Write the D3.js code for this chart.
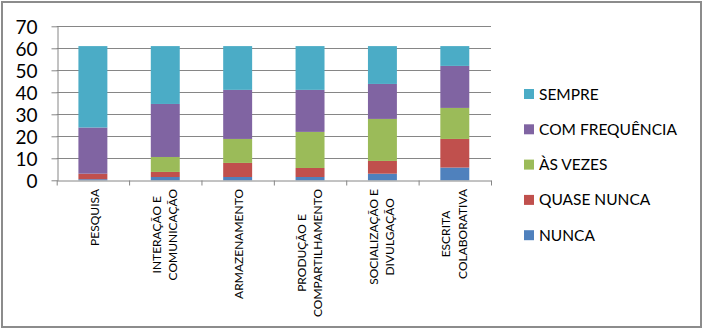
<!DOCTYPE html>
<html><head><meta charset="utf-8">
<script src="https://cdn.jsdelivr.net/npm/d3@7"></script>
<style>
body{margin:0;background:#fff;}
svg{display:block;font-family:Lato,"Open Sans",sans-serif;}
</style></head>
<body><svg id="c" width="704" height="331"></svg>
<script>
const categories = ["PESQUISA","INTERAÇÃO E COMUNICAÇÃO","ARMAZENAMENTO","PRODUÇÃO E COMPARTILHAMENTO","SOCIALIZAÇÃO E DIVULGAÇÃO","ESCRITA COLABORATIVA"];
const categoryLines = [["PESQUISA"],["INTERAÇÃO E","COMUNICAÇÃO"],["ARMAZENAMENTO"],["PRODUÇÃO E","COMPARTILHAMENTO"],["SOCIALIZAÇÃO E","DIVULGAÇÃO"],["ESCRITA","COLABORATIVA"]];
const seriesNames = ["NUNCA","QUASE NUNCA","ÀS VEZES","COM FREQUÊNCIA","SEMPRE"];
const nunca        = [0.5, 1.5, 1.5, 1.5, 3.0, 5.8];
const quaseNunca   = [2.5, 2.3, 6.4, 4.1, 5.8, 13.0];
const asVezes      = [0.0, 6.8, 10.9, 16.4, 19.1, 14.1];
const comFrequencia= [21.0, 24.1, 22.3, 19.1, 15.9, 19.1];
const sempre       = [37.0, 26.3, 19.9, 19.9, 17.2, 9.0];
const yTicks = [0,10,20,30,40,50,60,70];
const colors = ["#4F81BD","#C0504D","#9BBB59","#8064A2","#4BACC6"];

(function(){
const seriesValues = [nunca, quaseNunca, asVezes, comFrequencia, sempre];
const rows = categories.map((c,i)=>{const r={cat:c}; seriesNames.forEach((s,j)=>r[s]=seriesValues[j][i]); return r;});
const stacked = d3.stack().keys(seriesNames)(rows);

const svg = d3.select("#c");
svg.append("rect").attr("x",2).attr("y",2).attr("width",699).attr("height",325)
  .attr("fill","#fff").attr("stroke","#8c8c8c").attr("stroke-width",2);

const pLeft=56.7,pRight=491,pTop=26.3,pBottom=180.3;
const y = d3.scaleLinear().domain([0,70]).range([pBottom,pTop]);
const x = d3.scaleBand().domain(categories).range([pLeft,pRight]).paddingInner(0.6).paddingOuter(0.3);
const xb = d3.scaleLinear().domain([0,categories.length]).range([pLeft,pRight]);

svg.append("g").selectAll("line").data(yTicks.filter(d=>d>0)).join("line")
  .attr("x1",pLeft).attr("x2",pRight).attr("y1",d=>Math.round(y(d))+0.5).attr("y2",d=>Math.round(y(d))+0.5)
  .attr("stroke","#868686").attr("stroke-width",1);

svg.append("g").selectAll("g").data(stacked).join("g").attr("fill",(d,i)=>colors[i])
  .selectAll("rect").data(d=>d).join("rect")
  .attr("x",d=>x(d.data.cat)).attr("width",x.bandwidth())
  .attr("y",d=>y(d[1])).attr("height",d=>y(d[0])-y(d[1]));

const ya = svg.append("g").attr("transform",`translate(${Math.round(pLeft)+0.5},0)`)
  .call(d3.axisLeft(y).tickValues(yTicks).tickSize(6).tickPadding(14).tickSizeOuter(0));
ya.select(".domain").attr("stroke","#868686");
ya.selectAll(".tick line").attr("stroke","#868686");
ya.selectAll(".tick text").attr("font-size",19).attr("fill","#000").attr("font-family","Lato, sans-serif").attr("dy","0.36em");

const xa = svg.append("g").attr("transform",`translate(0,${Math.round(pBottom)+0.5})`)
  .call(d3.axisBottom(xb).tickValues(d3.range(categories.length+1)).tickFormat("").tickSize(5).tickSizeOuter(0));
xa.select(".domain").attr("stroke","#868686");
xa.selectAll(".tick line").attr("stroke","#868686");

const lab = svg.append("g").selectAll("g").data(categories).join("g");
lab.each(function(c,i){
  const g=d3.select(this);
  const lines=categoryLines[i];
  const t=g.append("text").attr("text-anchor","middle").attr("font-size",12).attr("fill","#000");
  lines.forEach((l,k)=>{
    t.append("tspan").attr("x",0).attr("y",(k-(lines.length-1)/2)*16.3+4.3).text(l);
  });
  const w=d3.max(t.selectAll("tspan").nodes(),n=>n.getComputedTextLength());
  const cx=x(c)+x.bandwidth()/2 + (lines.length===1?1.5:-0.6);
  g.attr("transform",`translate(${cx},${189+w/2}) rotate(-90)`);
});

const legendOrder = seriesNames.map((s,i)=>({s,i})).reverse();
const lg = svg.append("g").selectAll("g").data(legendOrder).join("g")
  .attr("transform",(d,k)=>`translate(524,${94+k*35.3})`);
lg.append("rect").attr("x",0).attr("y",-5).attr("width",10).attr("height",10).attr("fill",d=>colors[d.i]);
lg.append("text").attr("x",15).attr("y",0).attr("dy","0.36em").attr("font-size",15.5).attr("fill","#000").text(d=>d.s);
})();
</script></body></html>
